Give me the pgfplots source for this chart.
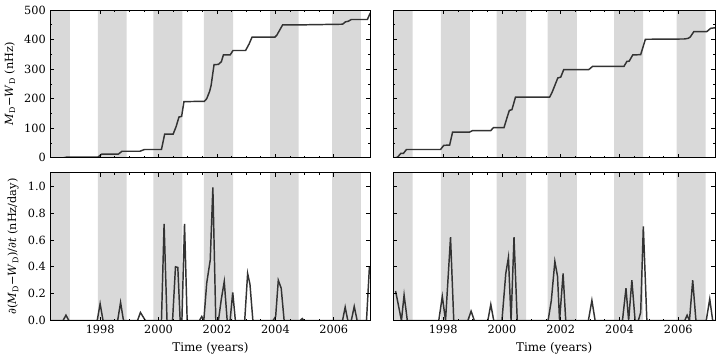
\documentclass[border=0pt]{standalone}
\usepackage{fontspec}
\setmainfont{DejaVu Serif}
\usepackage{pgfplots}
\pgfplotsset{compat=1.18}
\definecolor{bandgray}{HTML}{D9D9D9}
\definecolor{curve}{HTML}{333333}

\newcommand{\bands}[1]{%
  \addplot[const plot, fill=bandgray, draw=none, forget plot] coordinates {
    (1996.20,#1) (1996.96,0) (1997.92,#1) (1998.91,0) (1999.82,#1) (2000.82,0)
    (2001.55,#1) (2002.55,0) (2003.82,#1) (2004.80,0) (2005.94,#1) (2006.93,0) (2007.40,0)
  } \closedcycle;}

\pgfplotsset{
  panel/.style={
    scale only axis,
    xmin=1996.3, xmax=2007.25,
    xtick={1998,2000,2002,2004,2006},
    minor x tick num=3,
    tick align=inside,
    major tick length=3pt, minor tick length=1.5pt,
    axis line style={line width=0.6pt},
    every tick/.style={black, line width=0.5pt},
    /pgf/number format/assume math mode=true,
    /pgf/number format/1000 sep={},
    tick label style={font=\fontsize{8.5}{10}\selectfont},
    label style={font=\fontsize{8.5}{10}\selectfont},
    xlabel style={font=\fontsize{9}{10}\selectfont},
    axis on top,
    clip=true,
  },
  topp/.style={panel, ymin=0, ymax=500, ytick={0,100,200,300,400,500}, minor y tick num=1,
    xticklabels={}, height=111.2pt},
  botp/.style={panel, ymin=0, ymax=1.1, ytick={0,0.2,0.4,0.6,0.8,1.0},
    yticklabel style={/pgf/number format/fixed, /pgf/number format/fixed zerofill, /pgf/number format/precision=1},
    height=111.3pt, xlabel={Time (years)}},
  curvestyle/.style={color=curve, line width=1.1pt, mark=none},
}

\pgfplotstableread{
x y
1996.30 0
1996.75 0
1996.87 2.5
1997.93 2.5
1998.05 12
1998.62 12
1998.75 22
1999.36 22
1999.52 28
2000.10 28
2000.21 80
2000.50 80
2000.60 105
2000.70 138
2000.79 140
2000.87 190
2001.57 191
2001.65 200
2001.75 225
2001.80 245
2001.90 315
2002.05 316
2002.15 325
2002.22 348
2002.45 348
2002.55 363
2002.98 363
2003.10 385
2003.20 408
2003.98 408
2004.05 415
2004.25 450
2005.00 450
2006.30 452
2006.40 460
2006.50 462
2006.60 468
2007.15 468
2007.25 490
}\TL

\pgfplotstableread{
x y
1996.30 0
1996.73 0
1996.83 0.04
1996.93 0
1997.90 0
1998.00 0.125
1998.10 0
1998.60 0
1998.70 0.135
1998.80 0
1999.28 0
1999.38 0.06
1999.55 0
2000.10 0
2000.19 0.72
2000.29 0
2000.48 0
2000.58 0.40
2000.66 0.395
2000.74 0
2000.80 0
2000.89 0.72
2000.98 0
2001.40 0
2001.48 0.03
2001.55 0
2001.65 0.28
2001.77 0.45
2001.86 0.99
2001.96 0
2002.05 0
2002.15 0.16
2002.25 0.29
2002.35 0
2002.45 0
2002.54 0.21
2002.63 0
2002.95 0
2003.05 0.35
2003.13 0.27
2003.23 0
2003.92 0
2004.01 0.03
2004.10 0.30
2004.20 0.24
2004.30 0
2004.85 0
2004.92 0.015
2004.98 0
2006.30 0
2006.39 0.10
2006.48 0
2006.60 0
2006.70 0.105
2006.80 0
2007.12 0
2007.22 0.40
2007.25 0.40
}\BL

\pgfplotstableread{
x y
1996.38 0
1996.45 2
1996.56 15
1996.65 15
1996.75 28
1997.91 28
1998.02 42
1998.22 43
1998.32 87
1998.90 87
1999.00 92
1999.62 92
1999.71 102
2000.07 102
2000.17 135
2000.25 160
2000.34 163
2000.46 205
2001.62 205
2001.70 220
2001.80 245
2001.90 270
2002.00 273
2002.10 298
2002.95 298
2003.08 309
2004.15 309
2004.25 326
2004.33 327
2004.45 348
2004.72 349
2004.88 401
2006.20 402
2006.33 404
2006.40 408
2006.53 427
2006.97 427
2007.10 438
2007.25 440
}\TR

\pgfplotstableread{
x y
1996.38 0.22
1996.58 0
1996.67 0.19
1996.78 0
1997.85 0
1997.97 0.18
1998.08 0
1998.25 0.62
1998.36 0
1998.84 0
1998.95 0.07
1999.06 0
1999.52 0
1999.62 0.12
1999.72 0
2000.00 0
2000.13 0.35
2000.22 0.47
2000.31 0
2000.41 0.62
2000.52 0
2001.57 0
2001.68 0.15
2001.80 0.44
2001.89 0.33
2001.96 0
2002.08 0.35
2002.17 0
2002.94 0
2003.06 0.15
2003.17 0
2004.10 0
2004.22 0.24
2004.31 0
2004.42 0.30
2004.53 0
2004.64 0
2004.72 0.06
2004.81 0.70
2004.93 0
2006.22 0
2006.30 0.04
2006.38 0
2006.49 0.30
2006.60 0
2006.95 0
2007.07 0.16
2007.17 0
2007.25 0
}\BR

\begin{document}
\begin{tikzpicture}
\path (-36pt,-25.7pt) rectangle (506.25pt,241.3pt);
% top left
\begin{axis}[topp, at={(0pt,122.55pt)}, anchor=south west, width=240.75pt,
  ylabel={\textit{M}\textsubscript{D}−\textit{W}\textsubscript{D} (nHz)}]
  \bands{600}
  \addplot[curvestyle] table {\TL};
\end{axis}
% bottom left
\begin{axis}[botp, at={(0pt,0pt)}, anchor=south west, width=240.75pt,
  ylabel={∂(\textit{M}\textsubscript{D}−\textit{W}\textsubscript{D})/∂\textit{t} (nHz/day)}]
  \bands{2}
  \addplot[curvestyle] table {\BL};
\end{axis}
% top right
\begin{axis}[topp, at={(258pt,122.55pt)}, anchor=south west, width=242.25pt, yticklabels={}]
  \bands{600}
  \addplot[curvestyle] table {\TR};
\end{axis}
% bottom right
\begin{axis}[botp, at={(258pt,0pt)}, anchor=south west, width=242.25pt, yticklabels={}]
  \bands{2}
  \addplot[curvestyle] table {\BR};
\end{axis}
\end{tikzpicture}
\end{document}
